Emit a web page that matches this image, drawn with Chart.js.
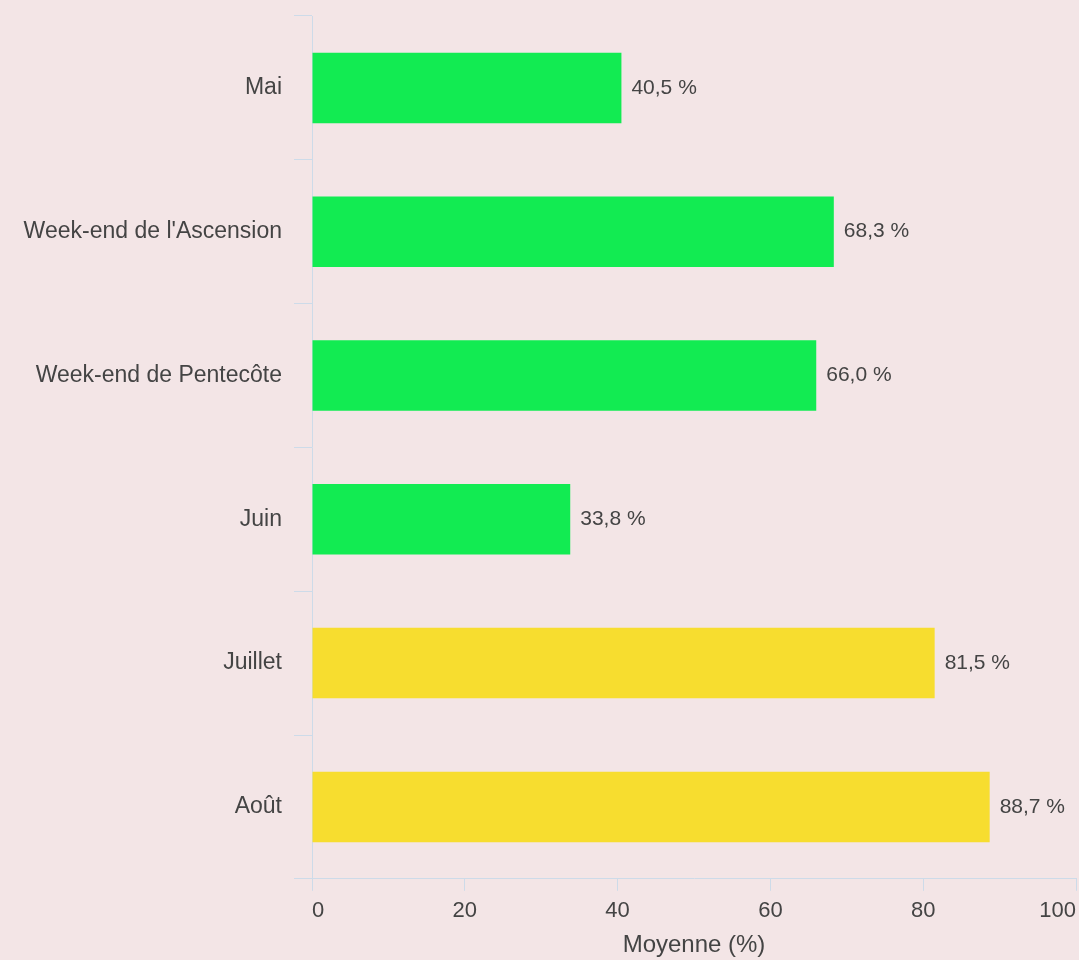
<!DOCTYPE html>
<html>
<head>
<meta charset="utf-8">
<script src="https://cdn.jsdelivr.net/npm/chart.js@4"></script>
<style>
  html, body { margin: 0; padding: 0; background: #f3e5e6; overflow: hidden; }
  #wrap { position: relative; width: 1079px; height: 960px; }
</style>
</head>
<body>
<div id="wrap"><canvas id="chart"></canvas></div>
<script>
const categories = ["Mai", "Week-end de l'Ascension", "Week-end de Pentecôte", "Juin", "Juillet", "Août"];
const values = [40.5, 68.3, 66.0, 33.8, 81.5, 88.7];
const barColors = ["#12eb52", "#12eb52", "#12eb52", "#12eb52", "#f7dd2f", "#f7dd2f"];
const xTicks = [0, 20, 40, 60, 80, 100];
const axisTitle = "Moyenne (%)";

const gridColor = "#cddbe9";
const textColor = "#444444";
const fontFamily = "'Liberation Sans', Arial, sans-serif";

// draws "40,5 %" at the end of each bar
const valueLabels = {
  id: "valueLabels",
  afterDatasetsDraw(chart) {
    const ctx = chart.ctx;
    const meta = chart.getDatasetMeta(0);
    ctx.save();
    ctx.font = "21px " + fontFamily;
    ctx.fillStyle = textColor;
    ctx.textAlign = "left";
    ctx.textBaseline = "middle";
    meta.data.forEach((bar, i) => {
      const txt = values[i].toFixed(1).replace(".", ",") + " %";
      ctx.fillText(txt, bar.x + 10, bar.y);
    });
    ctx.restore();
  },
};

new Chart(document.getElementById("chart"), {
  type: "bar",
  data: {
    labels: categories,
    datasets: [
      {
        data: values,
        backgroundColor: barColors,
        barPercentage: 0.49,
        categoryPercentage: 1,
      },
    ],
  },
  plugins: [valueLabels],
  options: {
    indexAxis: "y",
    responsive: true,
    maintainAspectRatio: false,
    animation: false,
    layout: { padding: { top: 16, bottom: 0, right: 3 } },
    plugins: {
      legend: { display: false },
      tooltip: { enabled: false },
    },
    scales: {
      x: {
        min: 0,
        max: 100,
        afterBuildTicks: (scale) => {
          scale.ticks = xTicks.map((v) => ({ value: v }));
        },
        afterFit: (scale) => {
          scale.paddingRight = 0;
        },
        grid: {
          drawOnChartArea: false,
          color: gridColor,
          tickLength: 12,
        },
        border: { color: gridColor },
        ticks: {
          color: textColor,
          padding: 7,
          align: "inner",
          font: { family: fontFamily, size: 22 },
        },
        title: {
          display: true,
          text: axisTitle,
          color: textColor,
          padding: { top: 0, bottom: 0 },
          font: { family: fontFamily, size: 24 },
        },
      },
      y: {
        afterFit: (scale) => {
          scale.width = 312;
          scale.paddingTop = 0;
          scale.paddingBottom = 0;
        },
        grid: {
          drawOnChartArea: false,
          offset: true,
          color: gridColor,
          tickLength: 18,
        },
        border: { color: gridColor },
        ticks: {
          color: textColor,
          padding: 12,
          font: { family: fontFamily, size: 23 },
        },
      },
    },
  },
});
</script>
</body>
</html>
